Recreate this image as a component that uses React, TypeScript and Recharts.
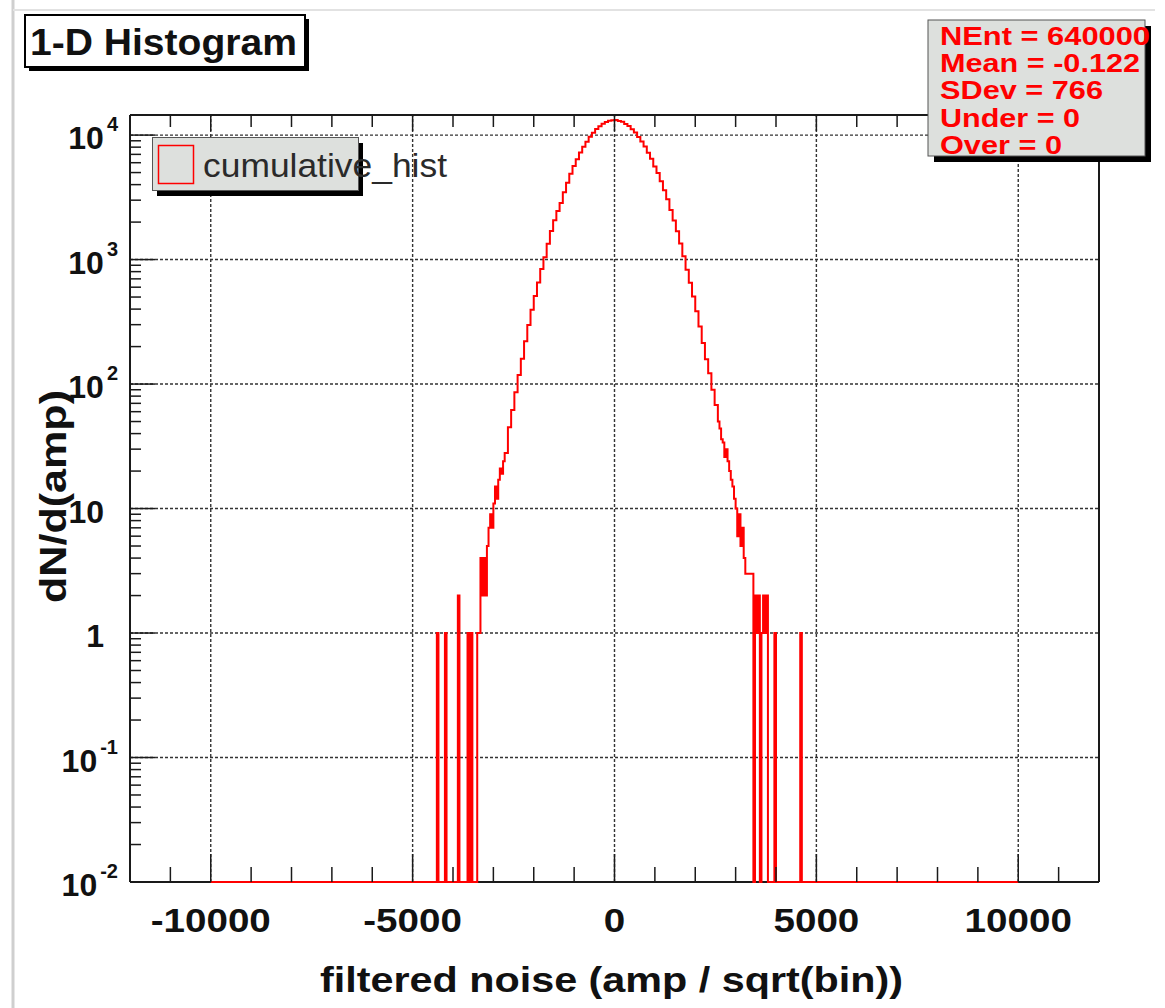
import React from 'react';
import { LineChart, Line, XAxis, YAxis, ReferenceLine, Legend } from 'recharts';

// ---------------- data ----------------
const SERIES_NAME = 'cumulative_hist';
const TITLE = '1-D Histogram';
const X_TITLE = 'filtered noise (amp / sqrt(bin))';
const Y_TITLE = 'dN/d(amp)';
const STATS = ['NEnt = 640000', 'Mean = -0.122', 'SDev = 766', 'Under = 0', 'Over = 0'];

const HIST_MAX = 10000;
const Y_MIN = 0.01;
const Y_MAX = 14500;
const X_MIN = -12000;
const X_MAX = 12000;

// lower edge of each bin (a bin ends where the next one starts; the last ends at HIST_MAX)
const binEdges = [
  -10000, -4400, -4360, -4200, -4160, -3880, -3840, -3640, -3600, -3560, -3520, -3400, -3360,
  -3320, -3280, -3240, -3200, -3160, -3120, -3080, -3040, -3000, -2960, -2920, -2880, -2840,
  -2800, -2760, -2720, -2640,
  -2560, -2480, -2400, -2320, -2240, -2160, -2080, -2000, -1920, -1840, -1760, -1680, -1600,
  -1520, -1440, -1360, -1280, -1200, -1120, -1040, -960, -880, -800, -720, -640, -560, -480,
  -400, -320, -240, -160, -80,
  0, 80, 160, 240, 320, 400, 480, 560, 640, 720, 800, 880, 960, 1040, 1120, 1200, 1280, 1360,
  1440, 1520, 1600, 1680, 1760, 1840, 1920, 2000, 2080, 2160, 2240, 2320, 2400, 2480,
  2560, 2600, 2640, 2680, 2720, 2760, 2800, 2840, 2880, 2920, 2960, 3000, 3040, 3080, 3120,
  3160, 3200, 3240, 3280, 3320, 3360, 3400, 3440, 3480, 3520, 3560, 3600, 3640, 3680, 3720,
  3760, 3800, 3960, 4000, 4600, 4640,
];

const binCounts = [
  0, 1, 0, 1, 0, 2, 0, 1, 0, 1, 0, 1, 1,
  4, 2, 4, 2, 5, 7, 9, 7, 11, 15, 12, 17, 21,
  19, 24, 28, 45,
  62, 86, 118, 160, 221, 298, 395, 510, 655, 840, 1045, 1340, 1700,
  2070, 2460, 2850, 3480, 4150, 4900, 5650, 6400, 7250, 8050, 8850, 9700, 10450, 11200,
  11800, 12350, 12750, 13050, 13150,
  13200, 13000, 12800, 12300, 11850, 11150, 10500, 9650, 8900, 8100, 7200, 6450, 5600, 4950, 4250, 3600, 3050, 2500,
  2060, 1690, 1345, 1065, 830, 650, 505, 385, 290, 214, 158, 122, 90, 68,
  50, 44, 36, 34, 26, 30, 24, 20, 17, 15, 12, 10, 6, 9, 5,
  7, 4, 3, 3, 3, 3, 3, 0, 2, 1, 2, 0, 1, 2, 1,
  2, 0, 1, 0, 1, 0,
];

const xTicks = [
  -11000, -10000, -9000, -8000, -7000, -6000, -5000, -4000, -3000, -2000, -1000, 0,
  1000, 2000, 3000, 4000, 5000, 6000, 7000, 8000, 9000, 10000, 11000,
];
const xMajorTicks = [-10000, -5000, 0, 5000, 10000];
const xMajorLabels = ['-10000', '-5000', '0', '5000', '10000'];

const yTicks = [
  0.01, 0.02, 0.03, 0.04, 0.05, 0.06, 0.07, 0.08, 0.09,
  0.1, 0.2, 0.3, 0.4, 0.5, 0.6, 0.7, 0.8, 0.9,
  1, 2, 3, 4, 5, 6, 7, 8, 9,
  10, 20, 30, 40, 50, 60, 70, 80, 90,
  100, 200, 300, 400, 500, 600, 700, 800, 900,
  1000, 2000, 3000, 4000, 5000, 6000, 7000, 8000, 9000,
  10000,
];
const yMajorTicks = [0.01, 0.1, 1, 10, 100, 1000, 10000];
const yMajorBase = ['10', '10', '1', '10', '10', '10', '10'];
const yMajorExp = ['-2', '-1', '', '', '2', '3', '4'];

const gridX = [-10000, -5000, 0, 5000, 10000];
const gridY = [0.1, 1, 10, 100, 1000, 10000];

// table for the library: empty bins sit on the axis floor (as on a log axis)
const histData = binEdges
  .map((e, i) => ({ x: e, y: binCounts[i] > 0 ? binCounts[i] : Y_MIN }))
  .concat([{ x: HIST_MAX, y: Y_MIN }]);

// ---------------- style ----------------
const FONT = '"Liberation Sans", Arial, Helvetica, sans-serif';
const AXIS_COLOR = '#1a1a1a';
const RED = '#ff0000';
const BOX_FILL = '#dde0dd';

function BottomTick(props: any) {
  const { x, y, payload } = props;
  const k = xMajorTicks.indexOf(payload.value);
  const major = k >= 0;
  return (
    <g>
      <line x1={x} y1={y} x2={x} y2={y - (major ? 28 : 15)} stroke={AXIS_COLOR} strokeWidth={1.5} />
      {major && (
        <text
          transform={`translate(${x},${y + 50}) scale(1.17,1)`}
          textAnchor="middle"
          fontFamily={FONT}
          fontWeight="bold"
          fontSize={33}
          fill="#111"
        >
          {xMajorLabels[k]}
        </text>
      )}
    </g>
  );
}

function TopTick(props: any) {
  const { x, y, payload } = props;
  const major = xMajorTicks.indexOf(payload.value) >= 0;
  return <line x1={x} y1={y} x2={x} y2={y + (major ? 16 : 12)} stroke={AXIS_COLOR} strokeWidth={1.5} />;
}

function LeftTick(props: any) {
  const { x, y, payload } = props;
  const k = yMajorTicks.indexOf(payload.value);
  const major = k >= 0;
  const exp = major ? yMajorExp[k] : '';
  return (
    <g>
      <line x1={x} y1={y} x2={x + (major ? 25 : 11)} y2={y} stroke={AXIS_COLOR} strokeWidth={1.5} />
      {major && (
        <text
          x={exp ? x - 12 : x - 26}
          y={y + 14}
          textAnchor="end"
          fontFamily={FONT}
          fontWeight="bold"
          fontSize={32}
          fill="#111"
        >
          {yMajorBase[k]}
          {exp && (
            <tspan dx={3} dy={-18} fontSize={20}>
              {exp}
            </tspan>
          )}
        </text>
      )}
    </g>
  );
}

function RightTick(props: any) {
  const { x, y, payload } = props;
  const major = yMajorTicks.indexOf(payload.value) >= 0;
  return <line x1={x} y1={y} x2={x - (major ? 25 : 14)} y2={y} stroke={AXIS_COLOR} strokeWidth={1.5} />;
}

function LegendBox(props: any) {
  const item = props.payload && props.payload[0];
  const label = item ? item.value : SERIES_NAME;
  const color = item && item.color ? item.color : RED;
  return (
    <svg width={300} height={64} style={{ overflow: 'visible', display: 'block' }}>
      <rect x={5} y={6} width={206} height={53} fill="#000" />
      <rect x={0.5} y={0.5} width={206} height={53} fill={BOX_FILL} stroke="#555" strokeWidth={1} />
      <rect x={6.5} y={8.5} width={35} height={38} fill={BOX_FILL} stroke={color} strokeWidth={1.5} />
      <text x={51} y={40} fontFamily={FONT} fontSize={33} fill="#2a2a2a" textLength={244} lengthAdjust="spacingAndGlyphs">
        {label}
      </text>
    </svg>
  );
}

const axisLineStyle = { stroke: AXIS_COLOR, strokeWidth: 2 };

export default function App() {
  return (
    <div style={{ position: 'absolute', left: 0, top: 0, width: 1165, height: 1008, background: '#fff', overflow: 'hidden' }}>
      <LineChart
        width={1165}
        height={1008}
        data={histData}
        margin={{ top: 114, right: 65, bottom: 125, left: 129 }}
      >
        <XAxis
          dataKey="x"
          type="number"
          domain={[X_MIN, X_MAX]}
          ticks={xTicks}
          interval={0}
          height={1}
          tickSize={0}
          tickMargin={0}
          tickLine={false}
          axisLine={false}
          tick={BottomTick}
        />
        <XAxis
          xAxisId="top"
          orientation="top"
          dataKey="x"
          type="number"
          domain={[X_MIN, X_MAX]}
          ticks={xTicks}
          interval={0}
          height={1}
          tickSize={0}
          tickMargin={0}
          tickLine={false}
          axisLine={axisLineStyle}
          tick={TopTick}
        />
        <YAxis
          type="number"
          scale="log"
          domain={[Y_MIN, Y_MAX]}
          ticks={yTicks}
          interval={0}
          width={1}
          tickSize={0}
          tickMargin={0}
          tickLine={false}
          axisLine={axisLineStyle}
          tick={LeftTick}
        />
        <YAxis
          yAxisId="right"
          orientation="right"
          type="number"
          scale="log"
          domain={[Y_MIN, Y_MAX]}
          ticks={yTicks}
          interval={0}
          width={1}
          tickSize={0}
          tickMargin={0}
          tickLine={false}
          axisLine={axisLineStyle}
          tick={RightTick}
        />
        {gridX.map((v) => (
          <ReferenceLine key={`gx${v}`} x={v} stroke="#333" strokeWidth={1.4} strokeDasharray="3 2" />
        ))}
        {gridY.map((v) => (
          <ReferenceLine key={`gy${v}`} y={v} stroke="#333" strokeWidth={1.4} strokeDasharray="3 2" />
        ))}
        {/* bottom frame line, drawn beneath the histogram so the red floor shows on top */}
        <ReferenceLine y={Y_MIN} stroke={AXIS_COLOR} strokeWidth={2} />
        <Legend
          verticalAlign="middle"
          align="center"
          content={LegendBox}
          wrapperStyle={{ left: 152, top: 137, width: 300, height: 64 }}
        />
        <Line
          name={SERIES_NAME}
          dataKey="y"
          type="stepAfter"
          stroke={RED}
          strokeWidth={2}
          dot={false}
          activeDot={false}
          isAnimationActive={false}
          {...({ zIndex: 600 } as any)}
        />
      </LineChart>

      <svg
        width={1165}
        height={1008}
        style={{ position: 'absolute', left: 0, top: 0, pointerEvents: 'none', zIndex: 5 }}
      >
        {/* canvas border */}
        <line x1={13} y1={0} x2={13} y2={1008} stroke="#cfcfcf" strokeWidth={3} />
        <line x1={13} y1={10} x2={1155} y2={10} stroke="#e2e2e2" strokeWidth={2} />

        {/* title box */}
        <rect x={29} y={19} width={280} height={52} fill="#000" />
        <rect x={25} y={15} width={280} height={52} fill="#fff" stroke="#000" strokeWidth={2} />
        <text x={30} y={55} fontFamily={FONT} fontWeight="bold" fontSize={37} fill="#111" textLength={267} lengthAdjust="spacingAndGlyphs">
          {TITLE}
        </text>

        {/* stats box */}
        <rect x={934} y={26} width={217} height={136} fill="#000" />
        <rect x={928} y={20} width={217} height={136} fill={BOX_FILL} stroke="#555" strokeWidth={1} />
        {STATS.map((s, i) => (
          <text
            key={s}
            x={940}
            y={45 + i * 27.2}
            fontFamily={FONT}
            fontWeight="bold"
            fontSize={26.5}
            fill={RED}
            textLength={[210, 200, 163, 140, 122][i]}
            lengthAdjust="spacingAndGlyphs"
          >
            {s}
          </text>
        ))}

        {/* axis titles */}
        <text
          x={611.5}
          y={992}
          textAnchor="middle"
          fontFamily={FONT}
          fontWeight="bold"
          fontSize={35}
          fill="#111"
          textLength={583}
          lengthAdjust="spacingAndGlyphs"
        >
          {X_TITLE}
        </text>
        <text
          transform="translate(66,496.5) rotate(-90)"
          textAnchor="middle"
          fontFamily={FONT}
          fontWeight="bold"
          fontSize={37}
          fill="#111"
          textLength={213}
          lengthAdjust="spacingAndGlyphs"
        >
          {Y_TITLE}
        </text>
      </svg>
    </div>
  );
}
